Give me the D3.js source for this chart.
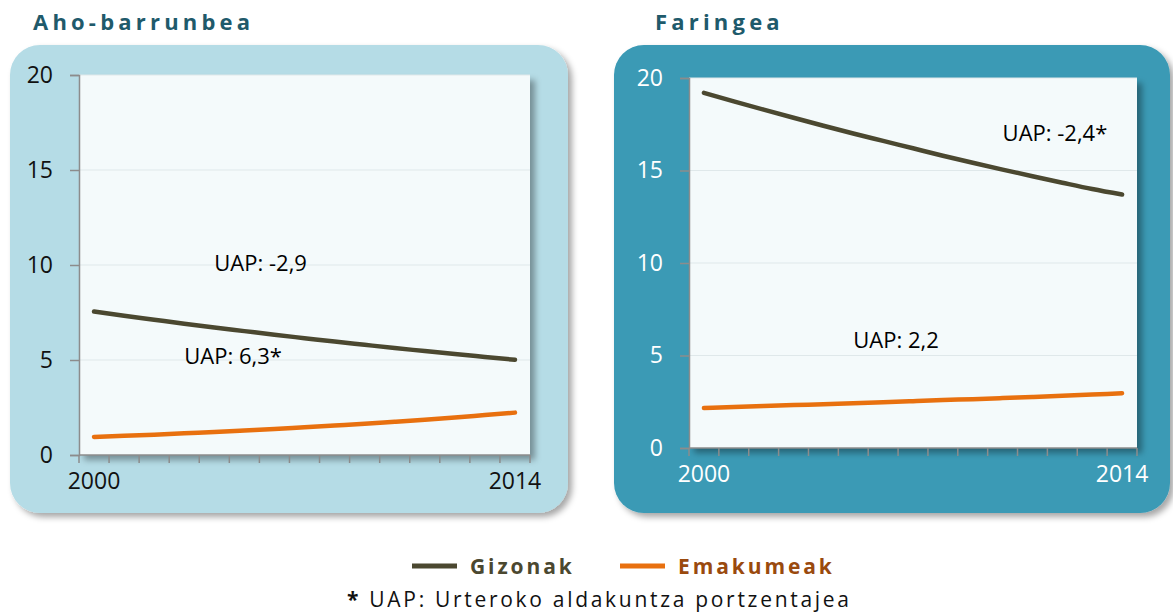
<!DOCTYPE html>
<html><head><meta charset="utf-8">
<script src="https://cdn.jsdelivr.net/npm/d3@7/dist/d3.min.js"></script>
<style>body{margin:0;background:#fff;}svg{display:block;}</style>
</head><body>
<svg id="chart" width="1173" height="613"></svg>
<script>
const years = d3.range(2000, 2015).map(String);
const yTicks = [0, 5, 10, 15, 20];
const xTickLabels = ["2000", "2014"];
const seriesNames = ["Gizonak", "Emakumeak"];
const seriesColors = ["#4b4830", "#e8700f"];
const legendTextColors = ["#4b4830", "#9a4a0e"];

const ahoGizonak   = [7.55,7.33,7.12,6.91,6.71,6.52,6.33,6.15,5.97,5.80,5.63,5.47,5.31,5.16,5.01];
const ahoEmakumeak = [0.95,1.01,1.07,1.14,1.21,1.29,1.37,1.46,1.55,1.64,1.75,1.86,1.97,2.10,2.23];
const farGizonak   = [19.2,18.74,18.29,17.85,17.42,17.0,16.6,16.2,15.8,15.42,15.05,14.69,14.34,14.0,13.7];
const farEmakumeak = [2.16,2.21,2.27,2.32,2.37,2.42,2.47,2.53,2.59,2.64,2.70,2.76,2.82,2.89,2.96];

const panelTitles = ["Aho-barrunbea", "Faringea"];
const annotations = [
  [{text:"UAP: -2,9", year:"2004", value:10.0}, {text:"UAP: 6,3*", year:"2003", value:5.1}],
  [{text:"UAP: -2,4*", year:"2010", value:16.9}, {text:"UAP: 2,2", year:"2005", value:5.7}]
];

const svg = d3.select("#chart");
const defs = svg.append("defs");
const f1 = defs.append("filter").attr("id","panelShadow").attr("x","-10%").attr("y","-10%").attr("width","130%").attr("height","130%");
f1.append("feDropShadow").attr("dx",4).attr("dy",4).attr("stdDeviation",3).attr("flood-color","#000").attr("flood-opacity",0.35);
const f2 = defs.append("filter").attr("id","plotShadow").attr("x","-10%").attr("y","-10%").attr("width","130%").attr("height","130%");
f2.append("feDropShadow").attr("dx",5).attr("dy",5).attr("stdDeviation",3).attr("flood-color","#000").attr("flood-opacity",0.35);

const panels = [
  {title: panelTitles[0], titleX: 33, bg:"#b5dce6", box:[10,45,558,468], plot:[79,75,530,455], tickColor:"#111", data:[ahoGizonak, ahoEmakumeak], ann: annotations[0]},
  {title: panelTitles[1], titleX: 655, bg:"#3a9ab5", box:[614,45,556,468], plot:[689,78,1137,448], tickColor:"#fff", data:[farGizonak, farEmakumeak], ann: annotations[1]}
];

panels.forEach(p => {
  const g = svg.append("g");
  g.append("text").attr("x", p.titleX).attr("y", 30).text(p.title)
    .attr("font-family","Open Sans").attr("font-weight",700).attr("font-size",22)
    .attr("letter-spacing","4.2px").attr("fill","#1f5a6b");
  g.append("rect").attr("x",p.box[0]).attr("y",p.box[1]).attr("width",p.box[2]).attr("height",p.box[3])
    .attr("rx",30).attr("fill",p.bg).attr("filter","url(#panelShadow)");
  const [x0,y0,x1,y1] = p.plot;
  const x = d3.scaleBand().domain(years).range([x0,x1]);
  const y = d3.scaleLinear().domain([0,20]).range([y1,y0]);
  g.append("rect").attr("x",x0).attr("y",y0).attr("width",x1-x0).attr("height",y1-y0)
    .attr("fill","#f4fafb").attr("filter","url(#plotShadow)");
  g.append("g").selectAll("line").data(yTicks.filter(t=>t>0)).join("line")
    .attr("x1",x0).attr("x2",x1).attr("y1",d=>y(d)).attr("y2",d=>y(d))
    .attr("stroke","#dfe8ea").attr("stroke-width",1);
  const ya = g.append("g").attr("transform",`translate(${x0},0)`)
    .call(d3.axisLeft(y).tickValues(yTicks).tickSize(9).tickPadding(17).tickFormat(d3.format("d")));
  ya.select(".domain").attr("stroke","#8c8c8c").attr("stroke-width",1.5);
  ya.selectAll(".tick line").attr("stroke","#8c8c8c").attr("stroke-width",1.5);
  ya.selectAll("text").attr("fill",p.tickColor).attr("font-family","Open Sans").attr("font-size",23);
  const bounds = years.map(d=>x(d)).concat([x1]);
  const xa = g.append("g");
  xa.append("line").attr("x1",x0).attr("x2",x1).attr("y1",y1).attr("y2",y1).attr("stroke","#8c8c8c").attr("stroke-width",1.5);
  xa.selectAll("line.t").data(bounds).join("line").attr("class","t")
    .attr("x1",d=>d).attr("x2",d=>d).attr("y1",y1).attr("y2",y1+8).attr("stroke","#8c8c8c").attr("stroke-width",1.5);
  xa.selectAll("text").data(xTickLabels).join("text")
    .attr("x",d=>x(d)+x.bandwidth()/2).attr("y",y1+34).attr("text-anchor","middle")
    .attr("fill",p.tickColor).attr("font-family","Open Sans").attr("font-size",23).text(d=>d);
  const line = d3.line().x((d,i)=>x(years[i])+x.bandwidth()/2).y(d=>y(d)).curve(d3.curveMonotoneX);
  p.data.forEach((s,i)=>{
    g.append("path").datum(s).attr("d",line).attr("fill","none")
      .attr("stroke",seriesColors[i]).attr("stroke-width",4.5).attr("stroke-linecap","round");
  });
  p.ann.forEach(a=>{
    g.append("text").attr("x",x(a.year)+x.bandwidth()/2).attr("y",y(a.value)).attr("text-anchor","start")
      .attr("dominant-baseline","middle").attr("font-family","Open Sans").attr("font-size",22).attr("fill","#000").text(a.text);
  });
});

const lg = svg.append("g");
const legendPos = [412, 620];
seriesNames.forEach((n,i)=>{
  lg.append("line").attr("x1",legendPos[i]).attr("x2",legendPos[i]+45).attr("y1",566).attr("y2",566)
    .attr("stroke",seriesColors[i]).attr("stroke-width",5);
  lg.append("text").attr("x",legendPos[i]+58).attr("y",574).text(n)
    .attr("font-family","Open Sans").attr("font-weight",700).attr("font-size",21)
    .attr("letter-spacing","2.9px").attr("fill",legendTextColors[i]);
});
svg.append("text").attr("x",347).attr("y",607).attr("text-anchor","start")
  .attr("font-family","Open Sans").attr("font-size",21).attr("letter-spacing","2.7px").attr("fill","#111")
  .html('<tspan font-weight="700">*</tspan> UAP: Urteroko aldakuntza portzentajea');
</script>
</body></html>
